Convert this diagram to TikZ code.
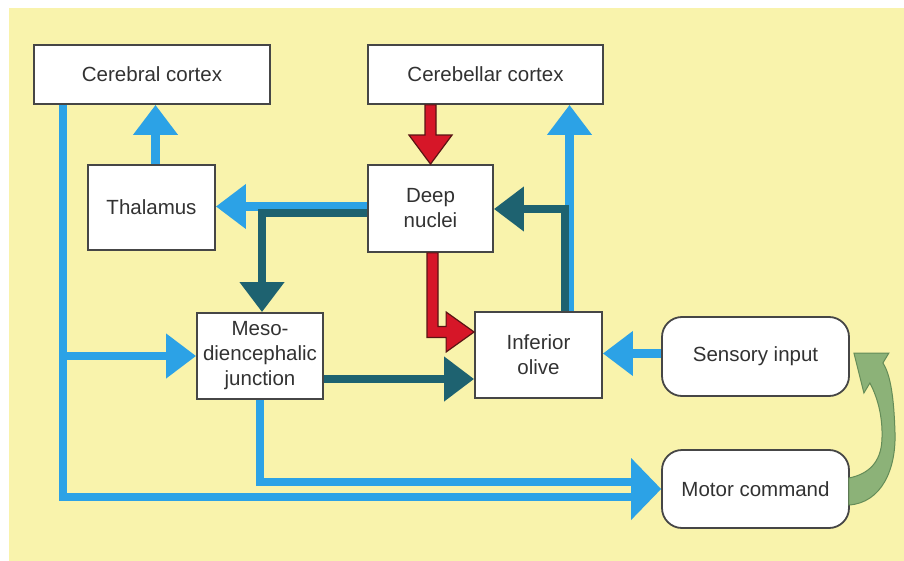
\documentclass[tikz,border=0pt]{standalone}
\usepackage{fontspec}
\setmainfont{Liberation Sans}
\usetikzlibrary{arrows.meta,calc}
\definecolor{bg}{RGB}{249,243,172}
\definecolor{skyb}{RGB}{44,162,230}
\definecolor{tealc}{RGB}{30,98,112}
\definecolor{redc}{RGB}{214,22,40}
\definecolor{redline}{RGB}{90,20,20}
\definecolor{grn}{RGB}{140,178,120}
\definecolor{grnline}{RGB}{100,140,88}
\definecolor{boxline}{RGB}{70,70,70}
\definecolor{txt}{RGB}{50,50,50}
\begin{document}
\begin{tikzpicture}[x=1pt,y=-1pt,
  box/.style={draw=boxline, line width=1.8pt, fill=white, inner sep=0pt, align=center, text=txt, font=\fontsize{20.5}{25}\selectfont},
  rbox/.style={box, rounded corners=20pt},
  bluel/.style={draw=skyb, line width=8.5pt, line join=miter},
  bluea/.style={bluel, -{Triangle[length=30pt,width=43pt]}},
  teala/.style={draw=tealc, line width=7.5pt, line join=miter, -{Triangle[length=30pt,width=43pt]}},
  redpoly/.style={fill=redc, draw=redline, line width=1.2pt, line join=miter},
  greenpoly/.style={fill=grn, draw=grnline, line width=1pt},
]
\useasboundingbox (0,0) rectangle (904,561);
\fill[white] (0,0) rectangle (904,561);
\fill[bg] (9,8) rectangle (904,561);

% nodes
\node[box, minimum width=236pt, minimum height=59pt] (cc) at (152,74.5) {Cerebral cortex};
\node[box, minimum width=235pt, minimum height=59pt] (cbc) at (485.5,74.5) {Cerebellar cortex};
\node[box, minimum width=127pt, minimum height=85pt] (th) at (151.5,207.5) {Thalamus};
\node[box, minimum width=125pt, minimum height=87pt] (dn) at (430.5,208.5) {Deep\\nuclei};
\node[box, minimum width=126pt, minimum height=86pt] (md) at (260,356) {Meso-\\diencephalic\\junction};
\node[box, minimum width=127pt, minimum height=86pt] (io) at (538.5,355) {Inferior\\olive};
\node[rbox, minimum width=187pt, minimum height=79pt] (si) at (755.5,356.5) {Sensory input};
\node[rbox, minimum width=187pt, minimum height=78pt] (mc) at (755.5,489) {Motor command};

% thalamus -> cerebral cortex
\coordinate (thout) at ($(th.north)+(4,0)$);
\draw[bluea] (thout) -- (thout |- cc.south);

% cerebellar cortex -> deep nuclei (red)
\coordinate (r1s) at (dn.north |- cbc.south);
\filldraw[redpoly] ($(r1s)+(-5.5,0)$) -- ($(dn.north)+(-5.5,-29)$) -- ($(dn.north)+(-21.5,-29)$) -- (dn.north)
  -- ($(dn.north)+(21.5,-29)$) -- ($(dn.north)+(5.5,-29)$) -- ($(r1s)+(5.5,0)$) -- cycle;

% deep nuclei -> inferior olive (red)
\coordinate (r2e) at ($(io.west)+(0,-23)$);
\coordinate (r2s) at ($(dn.south)+(2,0)$);
\coordinate (r2c) at (r2s |- r2e);
\filldraw[redpoly] ($(r2s)+(-5.5,0)$) -- ($(r2c)+(-5.5,5.5)$) -- ($(r2e)+(-28,5.5)$) -- ($(r2e)+(-28,20)$) -- (r2e)
  -- ($(r2e)+(-28,-20)$) -- ($(r2e)+(-28,-5.5)$) -- ($(r2c)+(5.5,-5.5)$) -- ($(r2s)+(5.5,0)$) -- cycle;

% deep nuclei -> thalamus (blue)
\coordinate (b2s) at ($(dn.west)+(0,-2)$);
\draw[bluea] (b2s) -- (b2s -| th.east);
% deep nuclei -> meso (teal)
\coordinate (t1s) at ($(dn.west)+(0,4.5)$);
\draw[teala] (t1s) -| ($(md.north)+(2,0)$);

% meso -> inferior olive (teal)
\coordinate (t2s) at ($(md.east)+(0,23)$);
\draw[teala] (t2s) -- (t2s -| io.west);

% inferior olive -> cerebellar cortex (blue)
\coordinate (b3s) at ($(io.north)+(31,0)$);
\draw[bluea] (b3s) -- (b3s |- cbc.south);
% inferior olive -> deep nuclei (teal)
\coordinate (t3s) at ($(io.north)+(26.5,0)$);
\draw[teala] (t3s) |- ($(dn.east)+(0,0.5)$);

% sensory input -> inferior olive
\coordinate (b4s) at ($(si.west)+(0,-3)$);
\draw[bluea] (b4s) -- (b4s -| io.east);

% cerebral cortex -> meso, motor command
\coordinate (b5s) at ($(cc.south west)+(30,0)$);
\draw[bluel] (b5s) |- ($(mc.west)+(-29,8)$);
\draw[bluea] (b5s |- md.west) -- (md.west);
% meso -> motor command
\draw[bluel] (md.south) |- ($(mc.west)+(-29,-7)$);
\fill[skyb] ($(mc.west)+(-30,-31)$) -- (mc.west) -- ($(mc.west)+(-30,31)$) -- cycle;

% motor command -> sensory input (green curved)
\filldraw[greenpoly] ($(mc.east)+(-1,16)$) .. controls ($(mc.east)+(31,14)$) and ($(mc.east)+(47,-19)$) .. ($(mc.east)+(45,-59)$)
  .. controls ($(si.east)+(44,43.5)$) and ($(si.east)+(41,18.5)$) .. ($(si.east)+(33,6.5)$)
  -- ($(si.east)+(39,-3.5)$) -- ($(si.east)+(4,-3.5)$) -- ($(si.east)+(14,36.5)$) -- ($(si.east)+(20,26.5)$)
  .. controls ($(si.east)+(29,43.5)$) and ($(si.east)+(33,63.5)$) .. ($(mc.east)+(32,-49)$)
  .. controls ($(mc.east)+(31,-27)$) and ($(mc.east)+(19,-15)$) .. ($(mc.east)+(-1,-11)$) -- cycle;
\end{tikzpicture}
\end{document}
